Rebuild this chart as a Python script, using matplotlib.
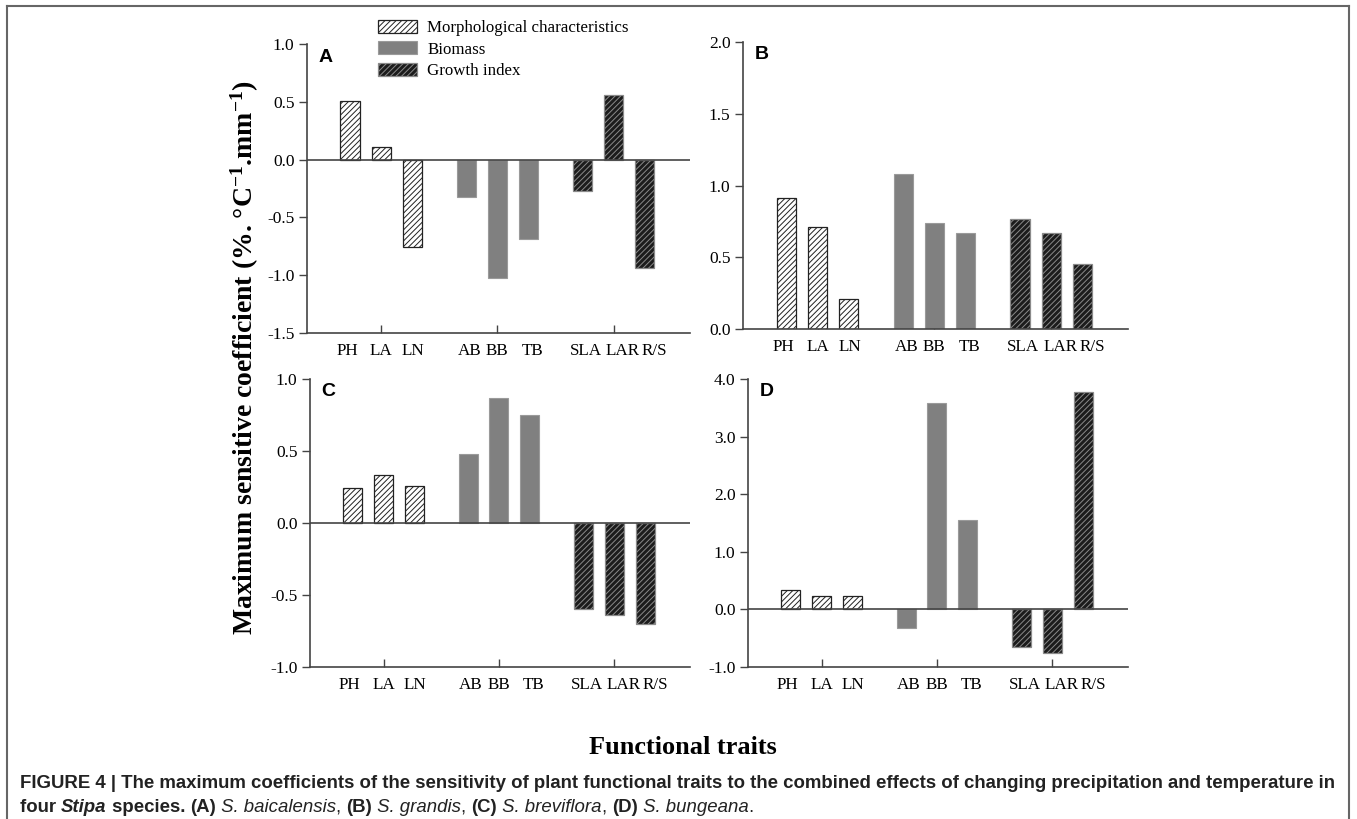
import matplotlib
matplotlib.use("Agg")
import matplotlib.pyplot as plt
from matplotlib.patches import Patch
from matplotlib.lines import Line2D

# ---- data ----
traits = ["PH", "LA", "LN", "AB", "BB", "TB", "SLA", "LAR", "R/S"]
groups = ["Morphological characteristics", "Biomass", "Growth index"]
trait_group = [0, 0, 0, 1, 1, 1, 2, 2, 2]

coef_a = [0.51, 0.11, -0.76, -0.32, -1.02, -0.69, -0.27, 0.56, -0.94]
coef_b = [0.91, 0.71, 0.21, 1.08, 0.74, 0.67, 0.77, 0.67, 0.45]
coef_c = [0.24, 0.33, 0.26, 0.48, 0.87, 0.75, -0.60, -0.64, -0.70]
coef_d = [0.34, 0.24, 0.24, -0.33, 3.58, 1.55, -0.66, -0.76, 3.78]

yticks_a = [-1.5, -1.0, -0.5, 0.0, 0.5, 1.0]
yticks_b = [0.0, 0.5, 1.0, 1.5, 2.0]
yticks_c = [-1.0, -0.5, 0.0, 0.5, 1.0]
yticks_d = [-1.0, 0.0, 1.0, 2.0, 3.0, 4.0]

plt.rcParams["axes.unicode_minus"] = False
plt.rcParams["hatch.linewidth"] = 0.7
plt.rcParams["mathtext.default"] = "regular"

W, H = 1357, 819
fig = plt.figure(figsize=(W / 100, H / 100), dpi=100)

SERIF = "Liberation Serif"
SANS = "Liberation Sans"

# bar styles per group
styles = [
    dict(facecolor="white", edgecolor="#222222", hatch="//////", linewidth=0.9),
    dict(facecolor="#808080", edgecolor="#9a9a9a", linewidth=0.8),
    dict(facecolor="#1c1c1c", edgecolor="#8a8a8a", hatch="//////", linewidth=0.9),
]

xpos = [i + g * 0.75 for i, g in enumerate(trait_group)]
group_ticks = [xpos[1], xpos[4], xpos[7]]
# small horizontal nudges (px) of the trait labels, as in the original
label_nudge = [-3, 0, 1, 3, 0, 4, 3, 9, 10]


def px_axes(left, top, right, bottom):
    return fig.add_axes([left / W, 1 - bottom / H, (right - left) / W, (bottom - top) / H])


def panel(ax, values, yticks, letter):
    ax.set_axisbelow(True)
    for x, v, g in zip(xpos, values, trait_group):
        ax.bar(x, v, width=0.62, **styles[g])
    ax.set_xlim(-1.39, 10.96)
    ax.set_ylim(yticks[0], yticks[-1])
    ax.set_yticks(yticks)
    ax.set_yticklabels([f"{t:.1f}" for t in yticks], fontfamily=SERIF, fontsize=12.5)
    # group ticks point inwards, trait names written below each bar
    ax.set_xticks(group_ticks)
    ax.set_xticklabels([])
    ax.tick_params(axis="x", direction="in", length=6, width=1, color="#444444")
    for x, name, dx in zip(xpos, traits, label_nudge):
        ax.annotate(name, xy=(x, 0), xycoords=("data", "axes fraction"),
                    xytext=(dx * 0.72, -10 * 0.72), textcoords="offset points",
                    ha="center", va="top", fontfamily=SERIF, fontsize=12.3)
    ax.tick_params(axis="y", direction="out", length=6, width=1, color="#444444", pad=3)
    for side in ["top", "right"]:
        ax.spines[side].set_visible(False)
    for side in ["left", "bottom"]:
        ax.spines[side].set_color("#444444")
        ax.spines[side].set_linewidth(1.2)
        ax.spines[side].set_zorder(3)
    if yticks[0] < 0:
        ax.axhline(0, color="#444444", linewidth=1.2, zorder=3)
    ax.text(0.03, 0.955, letter, transform=ax.transAxes, fontfamily=SANS,
            fontweight="bold", fontsize=14, va="center", ha="left")


ax_a = px_axes(307, 44, 690, 333)
ax_b = px_axes(743, 42, 1128, 329)
ax_c = px_axes(310, 379, 690, 667)
ax_d = px_axes(748, 379, 1128, 667)

panel(ax_a, coef_a, yticks_a, "A")
panel(ax_b, coef_b, yticks_b, "B")
panel(ax_c, coef_c, yticks_c, "C")
panel(ax_d, coef_d, yticks_d, "D")

handles = [Patch(**styles[i], label=groups[i]) for i in range(3)]
fig.legend(handles=handles, loc="upper left", bbox_to_anchor=(378 / W, 1 - 20 / H),
           frameon=False, borderpad=0, borderaxespad=0, handlelength=2.3,
           handleheight=0.8, handletextpad=0.6, labelspacing=0.3,
           prop=dict(family=SERIF, size=12.2))

fig.text(245 / W, 1 - 358 / H,
         "Maximum sensitive coefficient (%. \u00b0C$^{-1}$.mm$^{-1}$)",
         rotation=90, ha="center", va="center", fontfamily=SERIF,
         fontweight="bold", fontsize=20)
fig.text(683 / W, 1 - 748 / H, "Functional traits", ha="center", va="center",
         fontfamily=SERIF, fontweight="bold", fontsize=18.9)

# outer frame (open at the bottom)
frame = dict(color="#666666", linewidth=1.5, transform=fig.transFigure)
fig.add_artist(Line2D([7 / W, 1349 / W], [1 - 6 / H, 1 - 6 / H], **frame))
fig.add_artist(Line2D([7 / W, 7 / W], [1 - 6 / H, 0], **frame))
fig.add_artist(Line2D([1349 / W, 1349 / W], [1 - 6 / H, 0], **frame))

# caption with mixed bold / italic runs
renderer = fig.canvas.get_renderer()


def caption_line(x, y, runs):
    for txt, weight, style in runs:
        t = fig.text(x / W, 1 - y / H, txt, ha="left", va="center", fontfamily=SANS,
                     fontweight=weight, fontstyle=style, fontsize=13.4, color="#222222")
        x += t.get_window_extent(renderer).width


caption_line(20, 783, [("FIGURE 4 | The maximum coefficients of the sensitivity of plant functional "
                        "traits to the combined effects of changing precipitation and temperature in",
                        "bold", "normal")])
caption_line(20, 808, [
    ("four ", "bold", "normal"), ("Stipa", "bold", "italic"), (" species. ", "bold", "normal"),
    ("(A)", "bold", "normal"), (" S. baicalensis", "normal", "italic"), (", ", "normal", "normal"),
    ("(B)", "bold", "normal"), (" S. grandis", "normal", "italic"), (", ", "normal", "normal"),
    ("(C)", "bold", "normal"), (" S. breviflora", "normal", "italic"), (", ", "normal", "normal"),
    ("(D)", "bold", "normal"), (" S. bungeana", "normal", "italic"), (".", "normal", "normal"),
])

fig.savefig("out.png", dpi=100)
